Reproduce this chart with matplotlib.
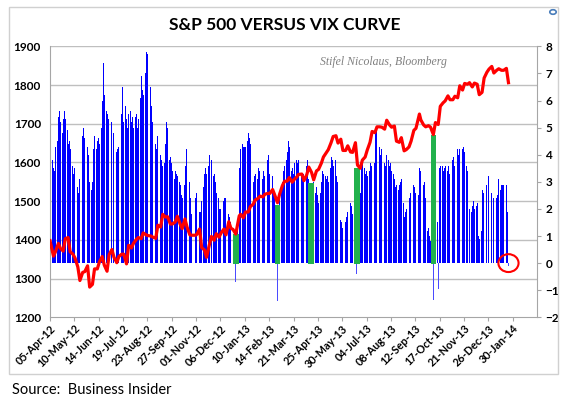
import matplotlib
matplotlib.use("Agg")
import matplotlib.pyplot as plt
import matplotlib.dates as mdates
from matplotlib.patches import Ellipse, Rectangle, Circle
import numpy as np
import pandas as pd

plt.rcParams["font.family"] = ["Lato", "DejaVu Sans"]

# ── S&P 500 (left axis), sampled Tue / Fri ────────────────────────
spx_dates = [
    "2012-04-05", "2012-04-10", "2012-04-13", "2012-04-17", "2012-04-20", "2012-04-24", "2012-04-27",
    "2012-05-01", "2012-05-04", "2012-05-08", "2012-05-11", "2012-05-15", "2012-05-18", "2012-05-22",
    "2012-05-25", "2012-05-29", "2012-06-01", "2012-06-05", "2012-06-08", "2012-06-12", "2012-06-15",
    "2012-06-19", "2012-06-22", "2012-06-26", "2012-06-29", "2012-07-03", "2012-07-06", "2012-07-10",
    "2012-07-13", "2012-07-17", "2012-07-20", "2012-07-24", "2012-07-27", "2012-07-31", "2012-08-03",
    "2012-08-07", "2012-08-10", "2012-08-14", "2012-08-17", "2012-08-21", "2012-08-24", "2012-08-28",
    "2012-08-31", "2012-09-04", "2012-09-07", "2012-09-11", "2012-09-14", "2012-09-18", "2012-09-21",
    "2012-09-25", "2012-09-28", "2012-10-02", "2012-10-05", "2012-10-09", "2012-10-12", "2012-10-16",
    "2012-10-19", "2012-10-23", "2012-10-26", "2012-10-31", "2012-11-02", "2012-11-06", "2012-11-09",
    "2012-11-13", "2012-11-16", "2012-11-20", "2012-11-23", "2012-11-27", "2012-11-30", "2012-12-04",
    "2012-12-07", "2012-12-11", "2012-12-14", "2012-12-18", "2012-12-21", "2012-12-24", "2012-12-28",
    "2013-01-02", "2013-01-04", "2013-01-08", "2013-01-11", "2013-01-15", "2013-01-18", "2013-01-22",
    "2013-01-25", "2013-01-29", "2013-02-01", "2013-02-05", "2013-02-08", "2013-02-12", "2013-02-15",
    "2013-02-19", "2013-02-22", "2013-02-26", "2013-03-01", "2013-03-05", "2013-03-08", "2013-03-12",
    "2013-03-15", "2013-03-19", "2013-03-22", "2013-03-26", "2013-03-28", "2013-04-02", "2013-04-05",
    "2013-04-09", "2013-04-12", "2013-04-16", "2013-04-19", "2013-04-23", "2013-04-26", "2013-04-30",
    "2013-05-03", "2013-05-07", "2013-05-10", "2013-05-14", "2013-05-17", "2013-05-21", "2013-05-24",
    "2013-05-28", "2013-05-31", "2013-06-04", "2013-06-07", "2013-06-11", "2013-06-14", "2013-06-18",
    "2013-06-21", "2013-06-25", "2013-06-28", "2013-07-02", "2013-07-05", "2013-07-09", "2013-07-12",
    "2013-07-16", "2013-07-19", "2013-07-23", "2013-07-26", "2013-07-30", "2013-08-02", "2013-08-06",
    "2013-08-09", "2013-08-13", "2013-08-16", "2013-08-20", "2013-08-23", "2013-08-27", "2013-08-30",
    "2013-09-03", "2013-09-06", "2013-09-10", "2013-09-13", "2013-09-18", "2013-09-20", "2013-09-24",
    "2013-09-27", "2013-10-01", "2013-10-04", "2013-10-08", "2013-10-11", "2013-10-15", "2013-10-18",
    "2013-10-22", "2013-10-25", "2013-10-29", "2013-11-01", "2013-11-05", "2013-11-08", "2013-11-12",
    "2013-11-15", "2013-11-19", "2013-11-22", "2013-11-26", "2013-11-29", "2013-12-03", "2013-12-06",
    "2013-12-10", "2013-12-13", "2013-12-17", "2013-12-20", "2013-12-24", "2013-12-27", "2013-12-31",
    "2014-01-03", "2014-01-07", "2014-01-10", "2014-01-14", "2014-01-17", "2014-01-21", "2014-01-24",
]
spx_values = [
    1398, 1358, 1370, 1391, 1378, 1371, 1403,
    1406, 1369, 1363, 1353, 1330, 1295, 1316,
    1318, 1333, 1278, 1285, 1325, 1325, 1343,
    1357, 1335, 1319, 1362, 1375, 1355, 1341,
    1357, 1363, 1363, 1338, 1386, 1379, 1391,
    1401, 1406, 1403, 1418, 1413, 1411, 1410,
    1407, 1404, 1438, 1433, 1466, 1459, 1460,
    1441, 1441, 1446, 1461, 1441, 1429, 1454,
    1433, 1413, 1412, 1412, 1414, 1428, 1380,
    1374, 1355, 1387, 1409, 1399, 1416, 1407,
    1418, 1428, 1413, 1447, 1430, 1427, 1415,
    1462, 1466, 1457, 1472, 1472, 1486, 1492,
    1503, 1507, 1513, 1511, 1518, 1520, 1520,
    1530, 1516, 1496, 1518, 1540, 1551, 1552,
    1561, 1549, 1556, 1563, 1569, 1570, 1553,
    1568, 1588, 1574, 1555, 1578, 1582, 1598,
    1614, 1625, 1633, 1651, 1667, 1669, 1650,
    1660, 1631, 1631, 1643, 1627, 1626, 1651,
    1593, 1585, 1606, 1614, 1632, 1652, 1680,
    1677, 1692, 1692, 1691, 1686, 1709, 1697,
    1691, 1694, 1655, 1652, 1664, 1630, 1633,
    1640, 1655, 1683, 1688, 1725, 1710, 1697,
    1692, 1695, 1691, 1672, 1703, 1698, 1745,
    1754, 1759, 1772, 1762, 1762, 1771, 1767,
    1798, 1787, 1804, 1802, 1806, 1795, 1805,
    1802, 1775, 1781, 1818, 1833, 1841, 1848,
    1831, 1838, 1842, 1838, 1838, 1843, 1806,
]

# ── VIX curve (right axis): one row per week, Mon..Fri, None = no session ──
vix_first_monday = "2012-04-02"
vix_daily = [
    [None, None, None, 5.0, None], [3.8, 3.5, 3.4, 4.7, 4.3], [4.5, 5.4, 5.9, 5.6, 5.2],
    [4.8, 5.3, 5.6, 5.6, 5.3], [4.9, 4.7, 4.4, 4.5, 4.2], [3.6, 3.4, 3.3, 3.5, 3.2],
    [3.0, 2.8, 2.6, 3.1, 3.3], [4.2, 4.7, 5.0, 4.8, 4.6], [None, 4.3, 4.0, 3.6, 3.0],
    [2.7, 3.0, 3.3, 4.2, 4.7], [4.2, 4.5, 4.8, 4.6, 4.4], [5.0, 6.0, 7.1, 7.4, 6.2],
    [5.6, 5.3, 5.5, 5.3, 5.0], [5.2, 4.9, None, 4.8, 4.5], [4.3, 4.1, 4.2, 4.3, 4.5],
    [4.6, 5.5, 6.5, 6.0, 5.2], [5.8, 5.3, 5.0, 5.7, 5.5], [5.6, 5.2, 5.8, 5.4, 5.0],
    [5.4, 5.5, 5.2, 5.0, 5.3], [6.1, 6.6, 6.9, 6.4, 6.2], [7.0, 7.5, 7.8, 7.7, 6.6],
    [6.5, 6.2, 5.8, 5.2, 6.0], [None, 4.4, 4.2, 5.2, 4.7], [4.6, 4.0, 3.8, 3.5, 3.6],
    [3.7, 4.4, 5.2, 5.3, 5.0], [3.8, 3.9, 3.5, 3.7, 3.4], [3.1, 3.4, 3.5, 3.3, 3.2],
    [3.0, 2.8, 2.9, 2.5, 2.4], [2.9, 2.7, 3.6, 4.2, 3.5], [2.9, 3.0, 2.4, 1.8, 1.7],
    [None, None, 2.4, 2.6, 2.6], [2.2, 1.9, 1.9, 2.0, 2.3], [2.8, 3.3, 3.4, 3.5, 3.3],
    [3.6, 4.0, 4.1, None, 3.8], [3.2, 3.3, 3.2, 3.0, 2.6], [2.4, 2.2, 2.0, 2.0, 2.1],
    [2.3, 2.5, 2.4, 2.4, 1.6], [1.5, 1.8, 1.7, 1.5, 1.2], [1.3, None, 1.0, 0.8, -0.7],
    [1.2, None, 3.5, 3.9, 4.2], [4.4, 4.3, 4.2, 4.3, 4.3], [4.5, 4.8, 4.9, 4.6, 4.4],
    [None, 2.5, 3.0, 3.2, 3.3], [3.1, 3.3, 3.5, 3.4, 3.2], [3.1, 3.3, 3.4, 3.2, 3.5],
    [3.5, 3.8, 4.0, 3.6, 3.3], [None, 3.2, 2.7, 2.2, 2.4], [0.5, -1.4, 1.5, 2.2, 2.6],
    [2.8, 3.0, 3.2, 3.4, 3.6], [3.8, 4.1, 4.3, 4.5, 4.3], [3.4, 3.6, 3.5, 3.3, 3.7],
    [3.8, 3.9, 3.7, 3.8, None], [3.2, 3.0, 3.1, 3.3, 3.4], [3.4, 3.6, 3.8, 3.6, 3.1],
    [-0.35, 1.5, 2.3, 2.8, 3.0], [2.6, 2.8, 2.5, 2.4, 2.2], [2.6, 3.0, 3.5, 3.4, 3.3],
    [3.2, 3.1, 3.3, 3.2, 3.0], [3.5, 3.7, 3.9, 3.8, 3.6], [3.8, 3.5, 3.2, 3.0, 3.1],
    [None, 1.6, 1.5, 1.3, 1.4], [1.6, 1.5, 1.7, 1.6, 1.9], [2.0, 2.2, 2.1, 2.0, 1.8],
    [1.5, 1.2, 0.6, -0.42, 0.8], [1.5, 2.6, 3.4, 3.6, 3.7], [3.5, 3.3, None, 3.4, 3.2],
    [3.4, 3.6, 3.7, 3.6, 3.5], [3.7, 4.6, 5.0, 4.9, 4.8], [4.5, 4.3, 4.0, 4.2, 3.8],
    [3.8, 3.7, 3.6, 3.9, 4.0], [3.8, 3.6, 3.7, 3.6, 3.4], [3.3, 3.1, 3.0, 2.8, 2.9],
    [2.7, 2.9, 2.8, 3.0, 3.1], [2.2, 1.8, 1.7, 1.9, 2.0], [None, 2.0, 2.4, 2.6, 2.5],
    [2.9, 3.0, 2.8, 2.6, 2.4], [2.3, 2.5, 3.5, 3.8, 3.4], [3.0, 2.9, 3.0, 2.8, 2.4],
    [1.2, 1.3, 1.0, 0.9, 0.8], [0.4, -1.35, 0.3, 1.0, 1.3], [1.5, -0.95, 3.0, 3.5, 3.6],
    [3.6, 3.7, 3.4, 3.5, 3.6], [3.4, 3.5, 3.6, 3.3, 3.4], [3.7, 3.8, 3.9, 3.6, 4.0],
    [4.1, 4.2, 4.0, 4.1, 4.2], [4.0, 4.2, 4.3, 4.4, 4.1], [3.6, 3.4, 2.8, None, 2.0],
    [1.9, 2.1, 2.2, 2.3, 2.0], [2.1, 2.2, 2.0, 1.0, 0.9], [1.2, 2.4, 2.7, 2.6, 2.5],
    [2.9, 3.3, None, 3.2, 3.0], [2.8, 2.6, None, 2.4, 2.5], [2.3, 2.4, 2.5, 2.6, 3.1],
    [2.7, 2.9, 2.9, 2.8, 2.9], [None, 2.9, 2.0, 1.9, -0.12],
]

# green markers: inversion days, drawn from the curve's zero up to the S&P level
green_dates = ["2012-12-28", "2013-02-26", "2013-04-15", "2013-06-20", "2013-10-08"]
green_tops = [1419, 1493, 1550, 1589, 1674]

spx_ticks = [1200, 1300, 1400, 1500, 1600, 1700, 1800, 1900]
vix_ticks = [-2, -1, 0, 1, 2, 3, 4, 5, 6, 7, 8]
x_first_tick = "2012-04-05"
x_tick_step_days = 35
x_tick_count = 20

# ── Figure ────────────────────────────────────────────────────────
W, H = 565, 400
fig = plt.figure(figsize=(W / 100, H / 100), dpi=100)
fig.patch.set_facecolor("white")

# chart border
fig.patches.append(Rectangle((9 / W, 1 - 374 / H), 549 / W, 367 / H, transform=fig.transFigure,
                             fill=False, edgecolor="#D0D0D0", linewidth=1.0))
# little zoom icon top-right
fig.patches.append(Circle((553 / W, 1 - 12 / H), 3.2 / W, transform=fig.transFigure,
                          fill=False, edgecolor="#4A7EBB", linewidth=1.2))

ax = fig.add_axes([50 / W, 1 - 317.3 / H, 487 / W, 271 / H])
ax2 = ax.twinx()
ax.set_zorder(ax2.get_zorder() + 1)
ax.patch.set_visible(False)

spx_lo, spx_hi = spx_ticks[0], spx_ticks[-1]
vix_lo, vix_hi = vix_ticks[0], vix_ticks[-1]

x_ticks = pd.date_range(x_first_tick, periods=x_tick_count, freq=f"{x_tick_step_days}D")
x_start = pd.Timestamp(x_first_tick)
x_end = x_start + pd.Timedelta(days=x_tick_step_days * x_tick_count)

# ── VIX curve bars (daily) ────────────────────────────────────────
mondays = pd.date_range(vix_first_monday, periods=len(vix_daily), freq="7D")
vix_arr = np.array(vix_daily, dtype=float)
day_dates = (mondays.values[:, None] + np.arange(5)[None, :] * np.timedelta64(1, "D")).ravel()
day_vals = vix_arr.ravel()
ok = ~np.isnan(day_vals)
day_dates, day_vals = day_dates[ok], day_vals[ok]
pos = day_vals >= 0
ax2.bar(day_dates[pos], day_vals[pos], width=1.0, color="#0000FF", linewidth=0, zorder=2)
ax2.bar(day_dates[~pos], day_vals[~pos], width=1.1, color="#4B4BFF", linewidth=0, zorder=2)

# horizontal gridlines at the left-axis ticks (kept behind bars)
for t in spx_ticks[1:]:
    yv = vix_lo + (t - spx_lo) / (spx_hi - spx_lo) * (vix_hi - vix_lo)
    ax2.axhline(yv, color="#BFBFBF", linewidth=1.0, zorder=0)

# ── Green markers + S&P line ──────────────────────────────────────
base = spx_lo + (0 - vix_lo) / (vix_hi - vix_lo) * (spx_hi - spx_lo)
ax.bar(pd.to_datetime(green_dates), np.array(green_tops) - base, bottom=base - 3,
       width=8, color="#22B14C", linewidth=0, zorder=2)
ax.plot(pd.to_datetime(spx_dates), spx_values, color="#FF0000", linewidth=2.3, zorder=3,
        solid_joinstyle="round")

# red circle around the latest reading
last_date = mdates.date2num(pd.Timestamp(day_dates[-1]))
ax2.add_patch(Ellipse((last_date, 0), width=29, height=0.66, fill=False,
                      edgecolor="#FF0000", linewidth=1.5, zorder=5))

# ── Axes styling ──────────────────────────────────────────────────
ax.set_xlim(x_start, x_end)
ax.set_ylim(spx_lo, spx_hi)
ax2.set_ylim(vix_lo, vix_hi)

ax.set_yticks(spx_ticks)
ax2.set_yticks(vix_ticks)
ax.set_xticks(x_ticks)
ax.xaxis.set_major_formatter(mdates.DateFormatter("%d-%b-%y"))

spine_col = "#A6A6A6"
ax.spines["top"].set_visible(False)
for s in ["left", "bottom", "right"]:
    ax.spines[s].set_color(spine_col)
for s in ax2.spines.values():
    s.set_visible(False)

ax.tick_params(axis="y", length=0, pad=6.5, labelsize=8.5, colors="black")
ax2.tick_params(axis="y", length=3, pad=3, labelsize=8.5, color=spine_col, labelcolor="black")
ax.tick_params(axis="x", length=3, color=spine_col, labelsize=7.8, pad=1)

for lbl in ax.get_yticklabels() + ax2.get_yticklabels():
    lbl.set_fontweight("bold")
for lbl in ax.get_xticklabels():
    lbl.set_fontweight("bold")
    lbl.set_rotation(45)
    lbl.set_ha("right")
    lbl.set_rotation_mode("anchor")

# ── Texts ─────────────────────────────────────────────────────────
fig.text(285 / W, 1 - 25 / H, "S&P 500 VERSUS VIX CURVE", ha="center", va="center",
         fontsize=12.5, fontweight="bold", color="black")
fig.text(383 / W, 1 - 62 / H, "Stifel Nicolaus, Bloomberg", ha="center", va="center",
         fontsize=8.5, style="italic", color="#7F7F7F", family=["Liberation Serif", "DejaVu Serif"])
fig.text(12 / W, 1 - 390 / H, "Source:  Business Insider", ha="left", va="center",
         fontsize=10.5, color="black")

fig.savefig("out.png", dpi=100)
